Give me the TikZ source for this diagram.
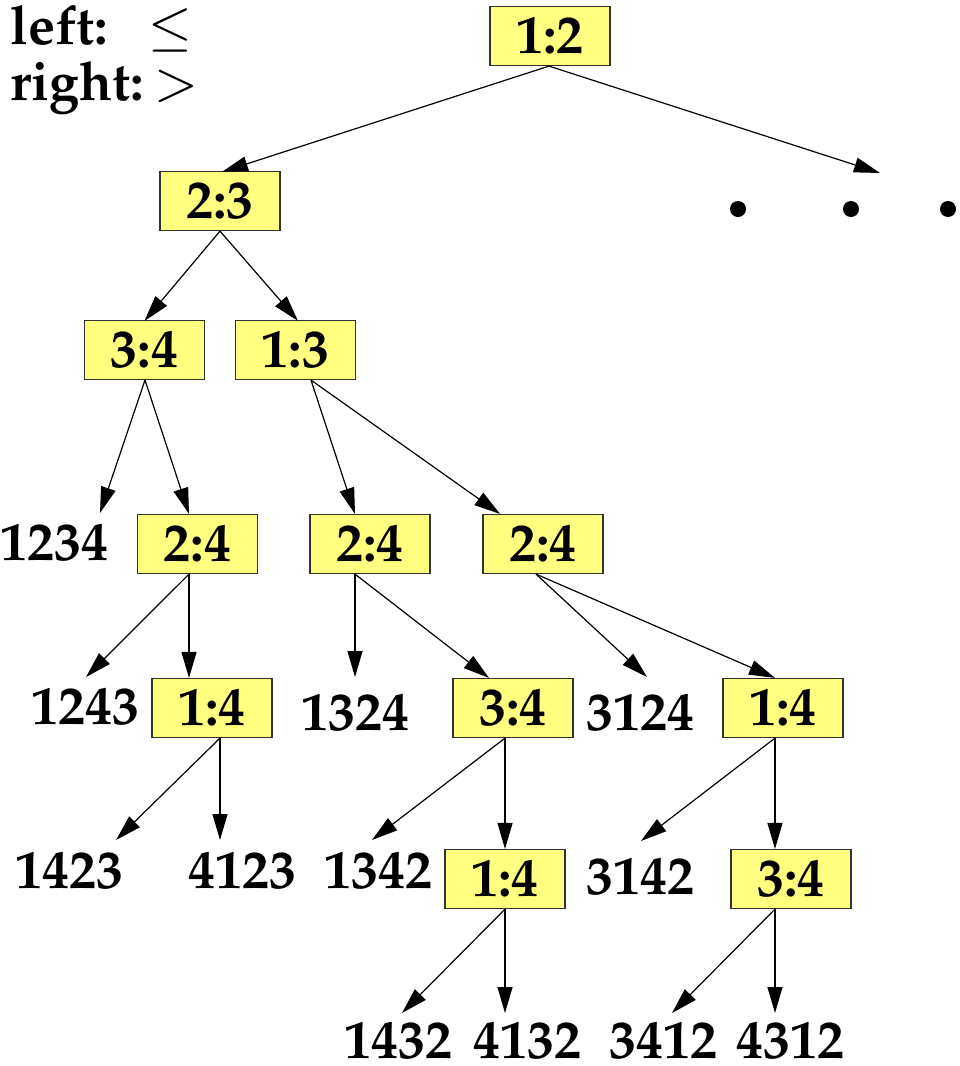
\documentclass[tikz,border=0pt]{standalone}
\usepackage[T1]{fontenc}
\usepackage{mathpazo}
\usetikzlibrary{arrows.meta}
\definecolor{boxyellow}{RGB}{255,255,128}
\definecolor{boxedge}{RGB}{50,50,50}
\begin{document}
\begin{tikzpicture}[x=1pt,y=-1pt,
  bigfont/.style={font=\fontsize{54}{58}\selectfont\bfseries},
  cmp/.style={bigfont, draw=boxedge, fill=boxyellow, line width=1.2pt,
    minimum width=120pt, minimum height=59pt, inner sep=0pt},
  leaf/.style={bigfont, inner sep=0pt},
  arr/.style={-{Triangle[length=26pt,width=15pt]}, line width=1.2pt},
  dot/.style={circle, fill=black, inner sep=0pt, minimum size=16pt}]
\useasboundingbox (0,0) rectangle (960,1066);
% legend
\node[bigfont, anchor=base west, inner sep=0pt] (legl) at (10,44) {left:};
\node[bigfont, anchor=base west, inner sep=0pt] (legls) at (148,44) {$\leq$};
\node[bigfont, anchor=base west, inner sep=0pt] (legr) at (10,100) {right:};
\node[bigfont, anchor=base west, inner sep=0pt] (legrs) at (154,100) {$>$};
% comparison boxes
\node[cmp] (c12)  at (550,36)  {1:2};
\node[cmp] (c23)  at (220,201) {2:3};
\node[cmp] (c34)  at (144.5,350) {3:4};
\node[cmp] (c13)  at (295.5,350) {1:3};
\node[cmp] (c24a) at (197.5,544) {2:4};
\node[cmp] (c24b) at (370,544) {2:4};
\node[cmp] (c24c) at (543,544) {2:4};
\node[cmp] (c14a) at (212,708) {1:4};
\node[cmp] (c34b) at (513,708) {3:4};
\node[cmp] (c14c) at (783,708) {1:4};
\node[cmp] (c14d) at (505,879) {1:4};
\node[cmp] (c34e) at (791,879) {3:4};
% leaves
\node[leaf] (l1234) at (55,543) {1234};
\node[leaf] (l1243) at (85,707) {1243};
\node[leaf] (l1324) at (355,713) {1324};
\node[leaf] (l3124) at (640,713) {3124};
\node[leaf] (l1423) at (70,871) {1423};
\node[leaf] (l4123) at (242,871) {4123};
\node[leaf] (l1342) at (378,871) {1342};
\node[leaf] (l3142) at (640,877) {3142};
\node[leaf] (l1432) at (398,1041) {1432};
\node[leaf] (l4132) at (527,1041) {4132};
\node[leaf] (l3412) at (663,1041) {3412};
\node[leaf] (l4312) at (790,1041) {4312};
% dots
\node[dot] (d1) at (738,209) {};
\node[dot] (d2) at (851,209) {};
\node[dot] (d3) at (948,209) {};
% arrow tip coordinates
\coordinate (tdots) at (880,173);
\coordinate (t1234) at (100,513);
\coordinate (t1243) at (86,677);
\coordinate (t1324) at (355,677);
\coordinate (t3124) at (647,677);
\coordinate (t1423) at (116,840);
\coordinate (t4123) at (220,840);
\coordinate (t1342) at (372,840);
\coordinate (t3142) at (641,841);
\coordinate (t1432) at (402,1013);
\coordinate (t4132) at (505,1013);
\coordinate (t3412) at (672,1013);
\coordinate (t4312) at (775,1013);
% connectors
\draw[arr] ([xshift=-1pt]c12.south) -- ([xshift=2pt,yshift=-1pt]c23.north);
\draw[arr] ([xshift=-1pt]c12.south) -- (tdots);
\draw[arr] (c23.south) -- ([yshift=-1pt]c34.north);
\draw[arr] (c23.south) -- ([xshift=2.5pt,yshift=-1pt]c13.north);
\draw[arr] ([xshift=0.5pt]c34.south) -- (t1234);
\draw[arr] ([xshift=0.5pt]c34.south) -- ([xshift=-8.5pt]c24a.north);
\draw[arr] ([xshift=15.5pt]c13.south) -- ([xshift=-15pt]c24b.north);
\draw[arr] ([xshift=15.5pt]c13.south) -- ([xshift=-43pt]c24c.north);
\draw[arr] ([xshift=-8.5pt]c24a.south) -- (t1243);
\draw[arr] ([xshift=-8.5pt]c24a.south) -- ([xshift=-23pt]c14a.north);
\draw[arr] ([xshift=-15pt]c24b.south) -- (t1324);
\draw[arr] ([xshift=-15pt]c24b.south) -- ([xshift=-24pt]c34b.north);
\draw[arr] ([xshift=-7pt]c24c.south) -- (t3124);
\draw[arr] ([xshift=-7pt]c24c.south) -- ([xshift=-8pt]c14c.north);
\draw[arr] ([xshift=8pt]c14a.south) -- (t1423);
\draw[arr] ([xshift=8pt]c14a.south) -- (t4123);
\draw[arr] ([xshift=-8pt]c34b.south) -- (t1342);
\draw[arr] ([xshift=-8pt]c34b.south) -- (c14d.north);
\draw[arr] ([xshift=-8pt]c14c.south) -- (t3142);
\draw[arr] ([xshift=-8pt]c14c.south) -- ([xshift=-16pt]c34e.north);
\draw[arr] (c14d.south) -- (t1432);
\draw[arr] (c14d.south) -- (t4132);
\draw[arr] ([xshift=-16pt]c34e.south) -- (t3412);
\draw[arr] ([xshift=-16pt]c34e.south) -- (t4312);
\end{tikzpicture}
\end{document}
